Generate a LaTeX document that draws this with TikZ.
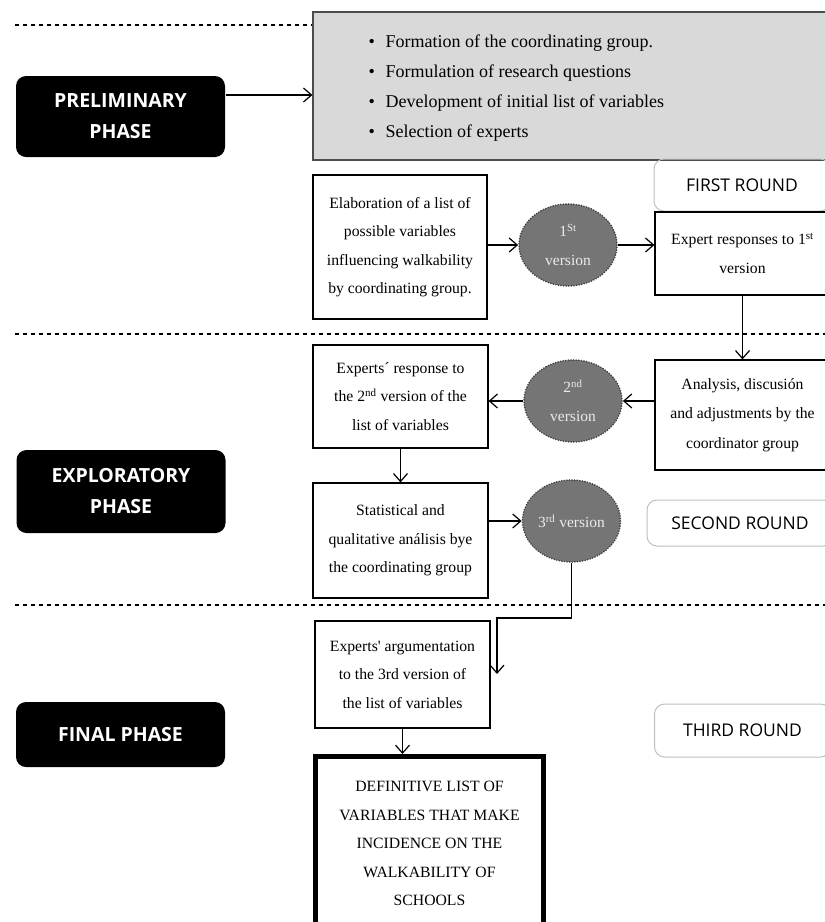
\documentclass[tikz,border=0pt]{standalone}
\usepackage{fontspec}
\setmainfont{Liberation Serif}
\newfontfamily\phasefont{Open Sans}
\usetikzlibrary{shapes.geometric,arrows.meta}

\tikzset{
  phase/.style={fill=black,rounded corners=10pt,text=white,align=center,minimum width=209pt,inner sep=0pt,font=\phasefont\bfseries\fontsize{19.5}{31}\selectfont},
  stepbox/.style={draw,align=center,minimum width=175pt,inner sep=0pt,font=\fontsize{15.7}{28.5}\selectfont},
  version/.style={ellipse,fill=black!54,draw=black!75,line width=1.8pt,dash pattern=on 0pt off 2.6pt,line cap=round,minimum width=98pt,minimum height=82pt,inner sep=0pt,text=black!8,align=center,font=\fontsize{15.5}{29}\selectfont},
  roundbox/.style={draw=black!25,line width=1pt,rounded corners=10pt,minimum width=176pt,font=\phasefont\fontsize{17.5}{20}\selectfont},
  arr/.style={-{Straight Barb[length=8pt,width=14pt]}},
  sepline/.style={dash pattern=on 4pt off 4pt,line width=1.2pt}
}

\begin{document}
\begin{tikzpicture}[x=1pt,y=-1pt,line width=1.2pt]
\useasboundingbox (0,0) rectangle (825,922);
\clip (0,0) rectangle (825,922);

\node[phase,minimum height=81pt] (prephase) at (120.5,116.5) {PRELIMINARY\\PHASE};
\node[phase,minimum height=83pt] (expphase) at (121,491.5) {EXPLORATORY\\PHASE};
\node[phase,minimum height=65pt] (finphase) at (120.5,734.5) {FINAL PHASE};

\node[draw=black!70,fill=black!15,minimum width=517pt,minimum height=148pt,inner sep=0pt] (prelim) at (571.5,86) {};
\node[anchor=west,align=left,inner sep=0pt,font=\fontsize{18}{30}\selectfont] (prelist) at (368,88) {%
\makebox[17pt][l]{\textbullet}Formation of the coordinating group.\\
\makebox[17pt][l]{\textbullet}Formulation of research questions\\
\makebox[17pt][l]{\textbullet}Development of initial list of variables\\
\makebox[17pt][l]{\textbullet}Selection of experts};

\node[roundbox,minimum height=52pt] (roundone) at (742,185) {FIRST ROUND};
\node[roundbox,minimum width=186pt,minimum height=46pt] (roundtwo) at (740,523) {SECOND ROUND};
\node[roundbox,minimum height=53pt] (roundthree) at (742.5,730.5) {THIRD ROUND};

\node[stepbox,minimum width=174pt,minimum height=144pt] (elab) at (400,247) {Elaboration of a list of\\possible variables\\influencing walkability\\by coordinating group.};
\node[version] (verone) at (568,245) {1\textsuperscript{St}\\version};
\node[stepbox,minimum height=83pt] (resp) at (742.5,253.5) {Expert responses to 1\textsuperscript{st}\\version};

\node[stepbox,minimum height=110pt,font=\fontsize{15.7}{29.5}\selectfont] (analysis) at (742.5,415) {Analysis, discusión\\and adjustments by the\\coordinator group};
\node[version] (vertwo) at (573,401) {2\textsuperscript{nd}\\version};
\node[stepbox,minimum height=103pt] (expresp) at (400.5,396.5) {Experts´ response to\\the 2\textsuperscript{nd} version of the\\list of variables};
\node[stepbox,minimum height=115pt] (stat) at (400.5,540.5) {Statistical and\\qualitative análisis bye\\the coordinating group};
\node[version] (verthree) at (571.5,521) {3\textsuperscript{rd} version};

\node[stepbox,minimum height=107pt] (argum) at (402.5,674.5) {Experts\textquotesingle\ argumentation\\to the 3rd version of\\the list of variables};
\node[stepbox,line width=5pt,minimum width=228pt,minimum height=174pt] (defin) at (429.5,843.5) {DEFINITIVE LIST OF\\VARIABLES THAT MAKE\\INCIDENCE ON THE\\WALKABILITY OF\\SCHOOLS};

\draw[sepline] (15,25) -- (prelim.west |- 0,25);
\draw[sepline] (15,334) -- (825,334);
\draw[sepline] (15,605) -- (825,605);

\coordinate (turn) at (497,618);
\coordinate (argin) at (497,674);

\draw[arr] ([yshift=21.5pt]prephase.east) -- ([yshift=21.5pt]prephase.east -| prelim.west);
\draw[arr] (elab.east |- verone) -- (verone.west);
\draw[arr] (verone.east) -- (verone.east -| resp.west);
\draw[arr] (resp.south) -- (analysis.north);
\draw[arr] (analysis.west |- vertwo) -- (vertwo.east);
\draw[arr] (vertwo.west) -- (vertwo.west -| expresp.east);
\draw[arr] (expresp.south) -- (stat.north);
\draw[arr] (stat.east |- verthree) -- (verthree.west);
\draw[arr] (verthree.south) |- (turn) -- (argin);
\draw[arr] (argum.south) -- (argum.south |- defin.north);
\end{tikzpicture}
\end{document}
